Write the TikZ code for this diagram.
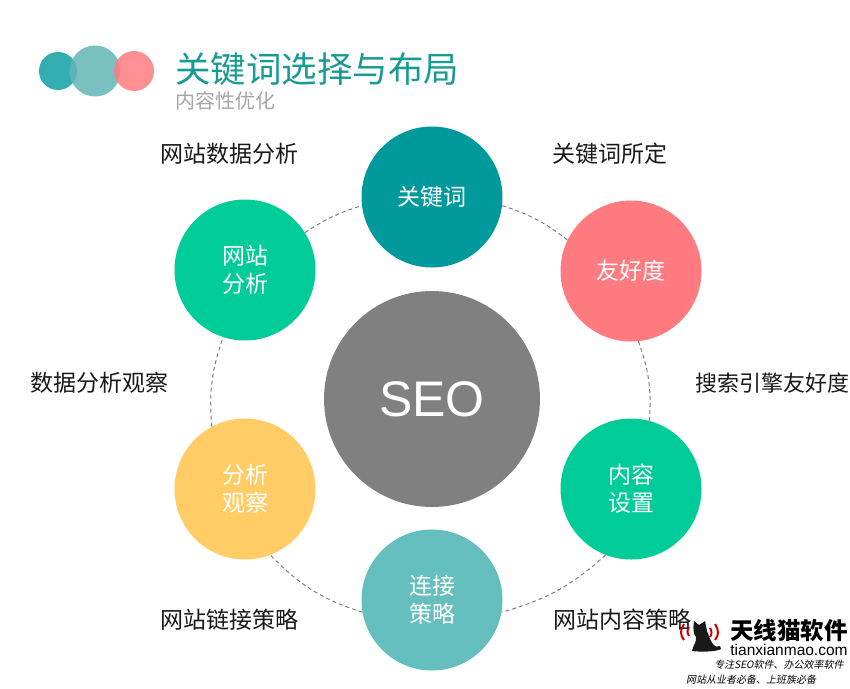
\documentclass[tikz,border=0pt]{standalone}
\usepackage{fontspec}
\setmainfont{Noto Sans CJK SC}
\newfontfamily\latinfont{Liberation Sans}
\newfontfamily\slantfont[FakeSlant=0.2]{Noto Sans CJK SC}
\definecolor{kwteal}{HTML}{009A9C}
\definecolor{lightteal}{HTML}{66BFBF}
\definecolor{coral}{HTML}{FF7B80}
\definecolor{mint}{HTML}{00CC99}
\definecolor{sand}{HTML}{FFCC66}
\definecolor{titleteal}{HTML}{169C92}
\tikzset{
  bubble/.style={circle,inner sep=0pt,minimum size=141pt,text=white,align=center,
    font=\fontsize{23}{28}\selectfont},
  sidelabel/.style={inner sep=0pt,text=black!90,font=\fontsize{23}{28}\selectfont},
  ringarc/.style={draw=black!50,line width=1pt,dash pattern=on 4pt off 3pt},
}

\begin{document}
\begin{tikzpicture}[x=1pt,y=-1pt]
  \useasboundingbox (0,0) rectangle (850,688);

  \fill [kwteal, fill opacity=0.8] (58,71) circle (19);
  \fill [lightteal!95!black, fill opacity=0.85] (95,71) circle (25.5);
  \fill [coral, fill opacity=0.85] (134,71) circle (20);
  \node [inner sep=0pt,text=titleteal,font=\fontsize{35.5}{40}\selectfont] (title) at (317,69) {关键词选择与布局};
  \node [inner sep=0pt,text=black!35,font=\fontsize{20}{24}\selectfont] (subtitle) at (225,101) {内容性优化};

  \node [bubble,fill=black!50,minimum size=216pt,font=\fontsize{50}{56}\latinfont] (seo) at (432,399) {SEO};
  \node [bubble,fill=kwteal] (kw) at (432,197) {关键词};
  \node [bubble,fill=coral] (yh) at (631,271) {友好度};
  \node [bubble,fill=mint] (nr) at (631,489) {内容\\设置};
  \node [bubble,fill=lightteal] (lj) at (432,600) {连接\\策略};
  \node [bubble,fill=sand] (fx) at (245,489) {分析\\观察};
  \node [bubble,fill=mint] (wf) at (245,270) {网站\\分析};

  \draw [ringarc] (kw.-7) to [bend left=10] (yh.154);
  \draw [ringarc] (yh.-84) to [bend left=12] (nr.75);
  \draw [ringarc] (nr.-111) to [bend left=13] (lj.-10);
  \draw [ringarc] (lj.190) to [bend left=14] (fx.-69);
  \draw [ringarc] (fx.118) to [bend left=12] (wf.-108);
  \draw [ringarc] (wf.32) to [bend left=8] (kw.187);

  \node [sidelabel] (wflabel) at (229,154) {网站数据分析};
  \node [sidelabel] (kwlabel) at (610,154) {关键词所定};
  \node [sidelabel] (fxlabel) at (99,383) {数据分析观察};
  \node [sidelabel,font=\fontsize{22}{28}\selectfont] (yhlabel) at (772,383) {搜索引擎友好度};
  \node [sidelabel] (ljlabel) at (229,620) {网站链接策略};
  \node [sidelabel] (nrlabel) at (622,620) {网站内容策略};

  \fill [black!90] (694,621) -- (699,625) -- (705,621) -- (707,631) -- (710,639)
    .. controls (713,645) and (715,648) .. (720,646) -- (721,649)
    .. controls (716,652) and (700,652) .. (692,651)
    .. controls (693,645) and (697,642) .. (696,637)
    .. controls (693,634) and (693,628) .. (694,621) -- cycle;
  \draw [red!80!black,line width=2pt] (684,624) .. controls (680,630) and (680,635) .. (684,640);
  \draw [red!80!black,line width=2pt] (689,627) .. controls (687,630) and (687,633) .. (689,636);
  \draw [red!80!black,line width=2pt] (715,624) .. controls (719,630) and (719,635) .. (715,640);
  \draw [red!80!black,line width=2pt] (710,628) .. controls (712,631) and (712,634) .. (710,637);
  \node [inner sep=0pt,font=\fontsize{23.5}{26}\selectfont\bfseries] (logo) at (789,630.5) {天线猫软件};
  \node [inner sep=0pt,font=\fontsize{15.5}{17}\latinfont] (logourl) at (789,649.5) {tianxianmao.com};
  \node [inner sep=0pt,font=\fontsize{10}{12}\slantfont] (slogana) at (779,665) {专注SEO软件、办公效率软件};
  \node [inner sep=0pt,font=\fontsize{10}{12}\slantfont] (sloganb) at (751,680) {网站从业者必备、上班族必备};
\end{tikzpicture}
\end{document}
